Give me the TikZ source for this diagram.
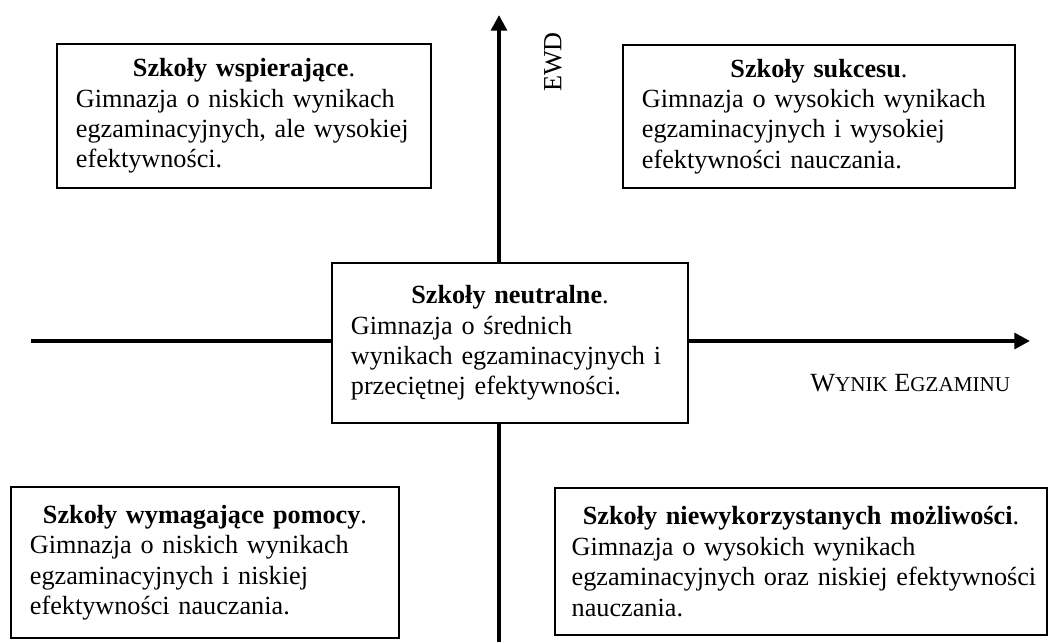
\documentclass[tikz,border=0pt]{standalone}
\usepackage{fontspec}
\setmainfont{Liberation Serif}
\usetikzlibrary{arrows.meta}

\newcommand{\headline}[1]{{\centering\textbf{#1}.\par}\raggedright\rightskip=0pt plus 1fil minus 40pt}
\newcommand{\minor}[1]{{\fontsize{9.5}{11}\selectfont #1}}

\tikzset{
    quad/.style={draw, line width=0.8pt, fill=white, inner xsep=8.5pt, inner ysep=0pt},
    axis/.style={line width=2pt, -{Triangle[length=7pt, width=7pt]}}
}

\begin{document}
\begin{tikzpicture}[x=0.45pt, y=-0.45pt, font=\fontsize{11.8}{13.7}\selectfont]
    \useasboundingbox (0, 0) rectangle (1050, 642);

    \coordinate (xstart) at (31, 341);
    \coordinate (xend) at (1030, 341);
    \coordinate (ystart) at (499, 642);
    \coordinate (yend) at (499, 15);

    \draw [axis] (xstart) -- (xend);
    \draw [axis] (ystart) -- (yend);

    \node (ewd) [rotate=90] at (553, 62) {EWD};
    \node (wynik) [anchor=east] at (1018, 383) {W\minor{YNIK} E\minor{GZAMINU}};

    \node (support) [quad, text width=151.3pt, minimum height=64.8pt] at (244, 116) {\headline{Szkoły wspierające}Gimnazja o niskich wynikach\\ egzaminacyjnych, ale wysokiej\\ efektywności.};
    \node (success) [quad, text width=159.4pt, minimum height=64.4pt] at (819, 116.5) {\headline{Szkoły sukcesu}Gimnazja o wysokich wynikach\\ egzaminacyjnych i wysokiej\\ efektywności nauczania.};
    \node (neutral) [quad, text width=143.2pt, minimum height=72pt] at (510, 343) {\headline{Szkoły neutralne}Gimnazja o średnich\\ wynikach egzaminacyjnych i\\ przeciętnej efektywności.};
    \node (help) [quad, text width=157.6pt, minimum height=68pt] at (205, 562.5) {\headline{Szkoły wymagające pomocy}Gimnazja o niskich wynikach\\ egzaminacyjnych i niskiej\\ efektywności nauczania.};
    \node (unused) [quad, inner xsep=7.5pt, text width=206.4pt, minimum height=66.2pt] at (801, 561.5) {\headline{Szkoły niewykorzystanych możliwości}Gimnazja o wysokich wynikach\\ egzaminacyjnych oraz niskiej efektywności\\ nauczania.};
\end{tikzpicture}
\end{document}
